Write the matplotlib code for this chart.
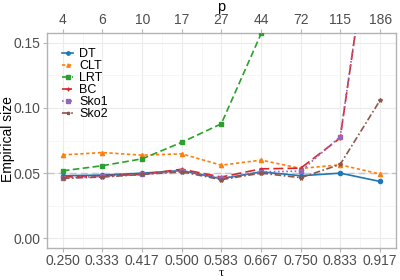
import matplotlib
matplotlib.use("Agg")
import matplotlib.pyplot as plt

plt.rcParams['font.family'] = ['Liberation Sans', 'DejaVu Sans']

tau = [0.250, 0.333, 0.417, 0.500, 0.583, 0.667, 0.750, 0.833, 0.917]
tau_labels = ["0.250", "0.333", "0.417", "0.500", "0.583", "0.667", "0.750", "0.833", "0.917"]
p_labels = ["4", "6", "10", "17", "27", "44", "72", "115", "186"]

DT = [0.048, 0.0485, 0.050, 0.052, 0.0457, 0.051, 0.048, 0.050, 0.0436]
CLT = [0.064, 0.0658, 0.0638, 0.0648, 0.0561, 0.060, 0.0536, 0.0564, 0.0493]
LRT = [0.0518, 0.0557, 0.061, 0.0737, 0.0878, 0.1572, 0.30, 0.45, 0.60]
BC = [0.047, 0.048, 0.049, 0.053, 0.047, 0.0533, 0.0538, 0.077, 0.29]
Sko1 = [0.0465, 0.0475, 0.049, 0.052, 0.046, 0.051, 0.0515, 0.078, 0.29]
Sko2 = [0.046, 0.047, 0.049, 0.051, 0.045, 0.050, 0.0465, 0.0567, 0.106]

series = [
    ("DT", DT, "#1f77b4", "-", "o"),
    ("CLT", CLT, "#ff7f0e", (0, (2, 1.5)), "^"),
    ("LRT", LRT, "#2ca02c", (0, (4, 2)), "s"),
    ("BC", BC, "#d62728", (0, (6, 2.5)), "+"),
    ("Sko1", Sko1, "#9467bd", (0, (1, 1.5)), "s"),
    ("Sko2", Sko2, "#8c564b", (0, (4, 1.5, 1, 1.5)), "*"),
]

fig = plt.figure(figsize=(4, 2.8), dpi=100)
ax = fig.add_axes([0.1175, 0.114, 0.8725, 0.768])

ax.axhline(0.05, color="#c4c4c4", lw=1.0, ls=(0, (5, 3)), zorder=1)

for name, vals, col, ls, mk in series:
    ax.plot(tau, vals, color=col, ls=ls, lw=1.2, marker=mk, ms=3.0, label=name, zorder=3)

ax.set_xlim(0.2167, 0.9503)
ax.set_ylim(-0.0075, 0.1575)
ax.set_xticks(tau)
ax.set_xticklabels(tau_labels)
ax.set_yticks([0.0, 0.05, 0.10, 0.15])
ax.set_yticklabels(["0.00", "0.05", "0.10", "0.15"])
ax.set_xticks([(tau[i] + tau[i + 1]) / 2 for i in range(len(tau) - 1)], minor=True)
ax.set_yticks([0.025, 0.075, 0.125], minor=True)
ax.grid(True, which="major", color="#ebebeb", lw=0.8)
ax.grid(True, which="minor", color="#f3f3f3", lw=0.5)
ax.set_axisbelow(True)
for s in ax.spines.values():
    s.set_color("#b3b3b3")
    s.set_linewidth(1.0)
ax.tick_params(which="major", colors="#b3b3b3", labelcolor="#4d4d4d", labelsize=10, length=3, pad=2)
ax.tick_params(axis="x", which="major", pad=1)
ax.tick_params(which="minor", length=0)
ax.set_ylabel("Empirical size", fontsize=10, va="center")
ax.yaxis.set_label_coords(-0.113, 0.509)
ax.set_xlabel("τ", fontsize=9, va="center", family=["Liberation Serif", "DejaVu Serif"])
ax.xaxis.set_label_coords(0.5, -0.118)

ax2 = ax.twiny()
ax2.set_xlim(ax.get_xlim())
ax2.set_xticks(tau)
ax2.set_xticklabels(p_labels)
ax2.tick_params(colors="#b3b3b3", labelcolor="#4d4d4d", labelsize=10, length=3, pad=1)
ax2.set_xlabel("p", fontsize=10.5, va="center")
ax2.xaxis.set_label_coords(0.5, 1.12)
for s in ax2.spines.values():
    s.set_visible(False)

leg = ax.legend(loc="upper left", bbox_to_anchor=(0.0, 1.0), frameon=False, fontsize=9,
                handlelength=0.9, handletextpad=0.5, labelspacing=0.0, borderaxespad=0.8,
                markerscale=0.8)

fig.savefig("out.png", dpi=100)
